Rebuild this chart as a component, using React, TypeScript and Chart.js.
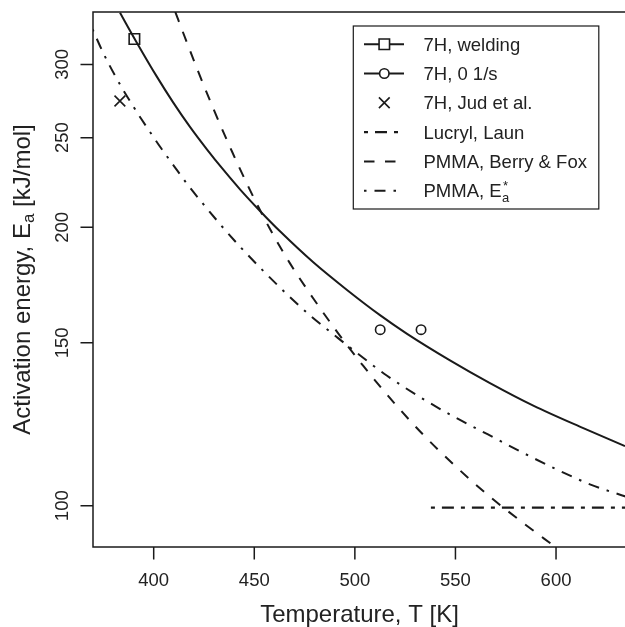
import React, { useEffect, useRef } from 'react';
import { Chart, registerables } from 'chart.js';

Chart.register(...registerables);

// ---------- data ----------
const xTicks = [400, 450, 500, 550, 600];
const yTicks = [100, 150, 200, 250, 300];
const X_MIN = 369.83;
const X_MAX = 634.78;
const Y_MIN = 90.23;
const Y_MAX = 341.8;

// solid line: 7H model curve
const fitT = [383.25, 391.55, 401.49, 409.74, 418.04, 426.35, 434.6, 442.9, 452.84, 462.79, 479.34, 495.94, 512.49, 525.77, 547.28, 567.16, 588.7, 613.55, 634.28];
const fitE = [341.2, 316.9, 291.2, 272.8, 256.8, 243.0, 230.8, 219.8, 208.3, 198.0, 183.3, 171.2, 160.7, 153.5, 143.6, 135.7, 128.3, 121.3, 116.0];

// markers
const weldT = [390.4];
const weldE = [319.6];
const rateT = [512.6, 532.9];
const rateE = [155.0, 155.0];
const judT = [383.2];
const judE = [273.9];

// Lucryl, Laun (horizontal dot-dash)
const launT = [537.8, 640];
const launE = [99.5, 99.5];

// PMMA, Berry & Fox (dashed)
const berryT = [410.74, 412.23, 421.03, 429.98, 438.93, 447.88, 457.82, 467.76, 479.35, 491.62, 504.2, 518.96, 534.02, 550.28, 566.33, 583.09, 599.5];
const berryE = [341.8, 335.1, 298.8, 267.7, 241.5, 219.4, 199.1, 182.8, 167.5, 153.7, 141.6, 129.6, 119.3, 110.2, 102.6, 96.0, 90.3];

// PMMA, Ea* (curved dot-dash)
const eaT = [369.58, 374.95, 380.76, 385.73, 389.86, 394.03, 399.01, 403.98, 409.74, 417.2, 423.01, 432.96, 442.9, 454.48, 466.11, 477.69, 490.97, 499.22, 515.83, 534.02, 548.93, 566.18, 582.83, 599.77, 617.17, 634.57];
const eaE = [327.5, 308.6, 291.8, 279.4, 270.2, 261.5, 252.0, 243.0, 233.5, 221.9, 214.0, 201.6, 190.6, 179.4, 169.4, 160.6, 152.2, 147.3, 138.3, 130.4, 124.9, 119.4, 114.3, 109.6, 105.4, 102.3];

const legendLabels = ['7H, welding', '7H, 0 1/s', '7H, Jud et al.', 'Lucryl, Laun', 'PMMA, Berry & Fox', 'PMMA, E'];
const xTitle = 'Temperature, T [K]';
const yTitleMain = 'Activation energy, E';
const yTitleSub = 'a';
const yTitleUnit = ' [kJ/mol]';

// ---------- styles ----------
const INK = '#1a1a1a';
const TXT = '#222222';
const FONT = '"Liberation Sans", Arial, Helvetica, sans-serif';

const pts = (xs: number[], ys: number[]) => xs.map((x, i) => ({ x, y: ys[i] }));

const DASH_LAUN = [4, 7, 12, 7];
const DASH_BERRY = [10.5, 10.5];
const DASH_EA = [2.5, 8, 11, 8];

function drawMarker(ctx: CanvasRenderingContext2D, style: string, r: number, x: number, y: number) {
  ctx.beginPath();
  if (style === 'circle') {
    ctx.arc(x, y, r, 0, Math.PI * 2);
  } else if (style === 'rect') {
    const s = r * Math.SQRT1_2;
    ctx.rect(x - s, y - s, 2 * s, 2 * s);
  } else {
    const s = r * Math.SQRT1_2;
    ctx.moveTo(x - s, y - s);
    ctx.lineTo(x + s, y + s);
    ctx.moveTo(x + s, y - s);
    ctx.lineTo(x - s, y + s);
  }
  ctx.stroke();
}

const decorPlugin = {
  id: 'decor',
  afterDraw(chart: any) {
    const { ctx, chartArea: a, scales } = chart;
    const ys = scales.y;
    ctx.save();
    // plot box
    ctx.strokeStyle = INK;
    ctx.lineWidth = 1.5;
    ctx.setLineDash([]);
    ctx.strokeRect(a.left, a.top, a.right - a.left, a.bottom - a.top);

    // y tick labels (rotated)
    ctx.fillStyle = TXT;
    ctx.font = `18.5px ${FONT}`;
    ctx.textAlign = 'center';
    ctx.textBaseline = 'alphabetic';
    yTicks.forEach((v) => {
      const py = ys.getPixelForValue(v);
      ctx.save();
      ctx.translate(68.3, py);
      ctx.rotate(-Math.PI / 2);
      ctx.fillText(String(v), 0, 0);
      ctx.restore();
    });

    // x title
    ctx.font = `24px ${FONT}`;
    ctx.textAlign = 'center';
    ctx.fillText(xTitle, (a.left + a.right) / 2, 622);

    // y title with subscript
    ctx.save();
    ctx.translate(29.5, (a.top + a.bottom) / 2);
    ctx.rotate(-Math.PI / 2);
    ctx.textAlign = 'left';
    ctx.font = `24px ${FONT}`;
    const w1 = ctx.measureText(yTitleMain).width;
    const w3 = ctx.measureText(yTitleUnit).width;
    ctx.font = `17px ${FONT}`;
    const w2 = ctx.measureText(yTitleSub).width;
    let sx = -(w1 + w2 + w3) / 2;
    ctx.font = `24px ${FONT}`;
    ctx.fillText(yTitleMain, sx, 0);
    sx += w1;
    ctx.font = `17px ${FONT}`;
    ctx.fillText(yTitleSub, sx, 4);
    sx += w2;
    ctx.font = `24px ${FONT}`;
    ctx.fillText(yTitleUnit, sx, 0);
    ctx.restore();

    // legend
    const L = { x: 353.3, y: 26, w: 245.5, h: 183 };
    ctx.fillStyle = '#ffffff';
    ctx.fillRect(L.x, L.y, L.w, L.h);
    ctx.strokeStyle = INK;
    ctx.lineWidth = 1.2;
    ctx.strokeRect(L.x, L.y, L.w, L.h);
    const ds = chart.data.datasets;
    const rowY = (i: number) => 44.2 + 29.3 * i;
    const lx0 = 364, lx1 = 404, mx = 384.3, tx = 423.5;
    for (let i = 0; i < legendLabels.length; i++) {
      const y = rowY(i);
      const d = ds[i];
      const lineDs = d.legendLineFrom != null ? ds[d.legendLineFrom] : d.showLine ? d : null;
      if (lineDs) {
        ctx.save();
        ctx.strokeStyle = lineDs.borderColor;
        ctx.lineWidth = lineDs.borderWidth;
        ctx.setLineDash(lineDs.borderDash || []);
        ctx.beginPath();
        ctx.moveTo(lx0, y);
        ctx.lineTo(lx1, y);
        ctx.stroke();
        ctx.restore();
      }
      if (!d.showLine && d.pointStyle) {
        ctx.save();
        ctx.setLineDash([]);
        if (d.pointStyle !== 'crossRot') {
          ctx.fillStyle = '#ffffff';
          ctx.beginPath();
          if (d.pointStyle === 'circle') ctx.arc(mx, y, d.pointRadius, 0, Math.PI * 2);
          else {
            const s = d.pointRadius * Math.SQRT1_2;
            ctx.rect(mx - s, y - s, 2 * s, 2 * s);
          }
          ctx.fill();
        }
        ctx.strokeStyle = d.pointBorderColor;
        ctx.lineWidth = d.pointBorderWidth;
        drawMarker(ctx, d.pointStyle, d.pointRadius, mx, y);
        ctx.restore();
      }
      ctx.fillStyle = TXT;
      ctx.font = `18.5px ${FONT}`;
      ctx.textAlign = 'left';
      ctx.textBaseline = 'alphabetic';
      const base = y + 6.6;
      ctx.fillText(legendLabels[i], tx, base);
      if (i === legendLabels.length - 1) {
        const wl = ctx.measureText(legendLabels[i]).width;
        ctx.font = `13px ${FONT}`;
        ctx.fillText('a', tx + wl + 0.5, base + 5);
        ctx.fillText('*', tx + wl + 1.5, base - 7);
      }
    }
    ctx.restore();
  },
};

const ticksPlugin = {
  id: 'axesTicks',
  afterDraw(chart: any) {
    const { ctx, chartArea: a, scales } = chart;
    ctx.save();
    ctx.strokeStyle = INK;
    ctx.lineWidth = 1.5;
    ctx.setLineDash([]);
    ctx.beginPath();
    scales.x.ticks.forEach((t: any) => {
      const px = scales.x.getPixelForValue(t.value);
      ctx.moveTo(px, a.bottom);
      ctx.lineTo(px, a.bottom + 12.5);
    });
    scales.y.ticks.forEach((t: any) => {
      const py = scales.y.getPixelForValue(t.value);
      ctx.moveTo(a.left, py);
      ctx.lineTo(a.left - 12.5, py);
    });
    ctx.stroke();
    ctx.fillStyle = TXT;
    ctx.font = `18.5px ${FONT}`;
    ctx.textAlign = 'center';
    ctx.textBaseline = 'alphabetic';
    scales.x.ticks.forEach((t: any) => {
      ctx.fillText(String(t.value), scales.x.getPixelForValue(t.value), 586);
    });
    ctx.restore();
  },
};

export default function App() {
  const ref = useRef<HTMLCanvasElement | null>(null);
  useEffect(() => {
    if (!ref.current) return;
    const lineBase = { showLine: true, pointRadius: 0, borderColor: INK, fill: false, cubicInterpolationMode: 'monotone' };
    const markBase = { showLine: false, pointBorderColor: INK, pointBackgroundColor: 'rgba(0,0,0,0)', pointBorderWidth: 1.6, borderColor: INK };
    const chart = new Chart(ref.current, {
      type: 'scatter',
      data: {
        datasets: [
          { ...markBase, label: legendLabels[0], data: pts(weldT, weldE), pointStyle: 'rect', pointRadius: 7.4, legendLineFrom: 6 },
          { ...markBase, label: legendLabels[1], data: pts(rateT, rateE), pointStyle: 'circle', pointRadius: 4.7, legendLineFrom: 6 },
          { ...markBase, label: legendLabels[2], data: pts(judT, judE), pointStyle: 'crossRot', pointRadius: 7.6 },
          { ...lineBase, label: legendLabels[3], data: pts(launT, launE), borderWidth: 2.3, borderDash: DASH_LAUN },
          { ...lineBase, label: legendLabels[4], data: pts(berryT, berryE), borderWidth: 2, borderDash: DASH_BERRY },
          { ...lineBase, label: legendLabels[5], data: pts(eaT, eaE), borderWidth: 2, borderDash: DASH_EA },
          { ...lineBase, label: '7H model', data: pts(fitT, fitE), borderWidth: 2 },
        ] as any,
      },
      options: {
        animation: false,
        responsive: false,
        maintainAspectRatio: false,
        events: [],
        layout: { autoPadding: false, padding: { left: 93, top: 12, right: 0, bottom: 80 } },
        plugins: { legend: { display: false }, tooltip: { enabled: false }, title: { display: false } },
        scales: {
          x: {
            type: 'linear',
            display: false,
            min: X_MIN,
            max: X_MAX,
            afterBuildTicks: (s: any) => { s.ticks = xTicks.map((v) => ({ value: v })); },
          },
          y: {
            type: 'logarithmic',
            display: false,
            min: Y_MIN,
            max: Y_MAX,
            afterBuildTicks: (s: any) => { s.ticks = yTicks.map((v) => ({ value: v })); },
          },
        },
      } as any,
      plugins: [ticksPlugin, decorPlugin],
    });
    return () => chart.destroy();
  }, []);
  return (
    <div style={{ position: 'fixed', left: 0, top: 0, width: 625, height: 627, overflow: 'hidden', background: '#fff' }}>
      <canvas ref={ref} width={626} height={627} style={{ width: 626, height: 627, display: 'block' }} />
    </div>
  );
}
